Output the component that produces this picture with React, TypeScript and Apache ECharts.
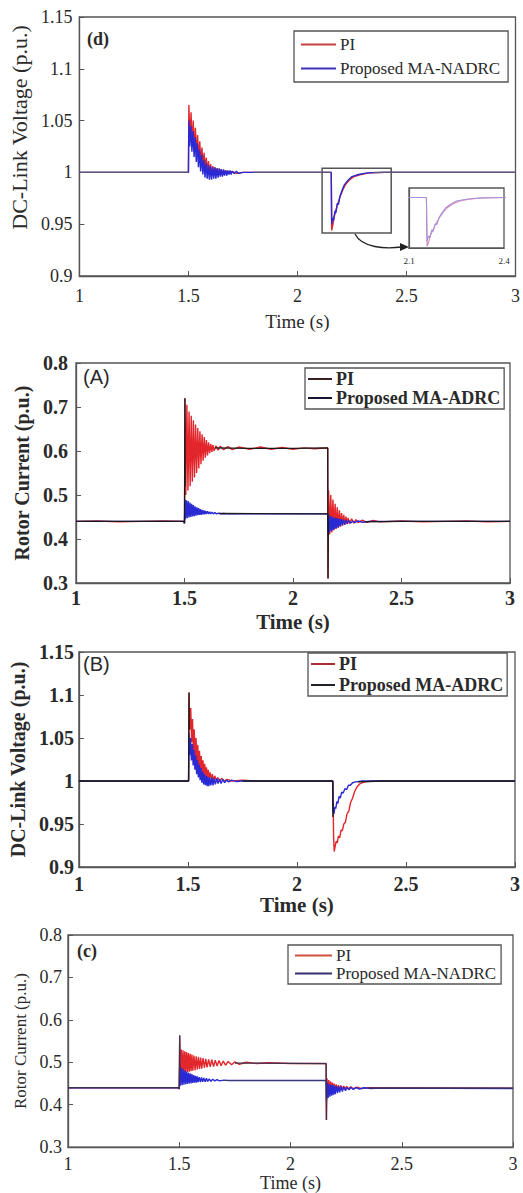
import React, { useEffect, useRef } from "react";
import * as echarts from "echarts";

// ---------- DATA ----------
// Panel (d): DC-link voltage, PI vs Proposed MA-NADRC
const piD = [[1.0,1.0],[1.5,1.0],[1.502,1.065],[1.507,1.03],[1.512,1.058],[1.517,1.025],[1.522,1.05],[1.527,1.02],[1.532,1.043],[1.537,1.015],[1.542,1.036],[1.547,1.011],[1.552,1.03],[1.557,1.008],[1.562,1.024],[1.567,1.005],[1.572,1.019],[1.577,1.003],[1.582,1.014],[1.587,1.0],[1.592,1.011],[1.597,0.998],[1.602,1.008],[1.607,0.997],[1.612,1.006],[1.617,0.997],[1.622,1.005],[1.627,0.997],[1.632,1.004],[1.64,0.998],[1.65,1.003],[1.66,0.998],[1.67,1.002],[1.68,0.999],[1.7,1.001],[1.72,0.999],[1.75,1.0],[2.155,1.0],[2.157,0.944],[2.163,0.95],[2.168,0.957],[2.175,0.962],[2.182,0.968],[2.19,0.973],[2.2,0.979],[2.21,0.984],[2.22,0.988],[2.24,0.993],[2.26,0.996],[2.29,0.998],[2.33,0.9995],[2.4,1.0],[3.0,1.0]];
const propD = [[1.0,1.0],[1.5,1.0],[1.502,1.05],[1.506,1.025],[1.511,1.045],[1.516,1.02],[1.521,1.04],[1.526,1.015],[1.531,1.034],[1.536,1.01],[1.541,1.028],[1.546,1.005],[1.551,1.022],[1.556,1.001],[1.561,1.017],[1.566,0.998],[1.571,1.012],[1.576,0.995],[1.581,1.009],[1.586,0.994],[1.591,1.007],[1.596,0.993],[1.601,1.006],[1.606,0.993],[1.611,1.005],[1.616,0.994],[1.621,1.005],[1.626,0.994],[1.631,1.004],[1.636,0.995],[1.641,1.004],[1.646,0.996],[1.651,1.003],[1.656,0.996],[1.661,1.003],[1.666,0.997],[1.671,1.002],[1.676,0.997],[1.681,1.002],[1.686,0.998],[1.691,1.002],[1.696,0.998],[1.701,1.001],[1.71,0.999],[1.72,1.001],[1.73,0.999],[1.75,1.0],[2.155,1.0],[2.157,0.95],[2.162,0.956],[2.166,0.954],[2.172,0.963],[2.176,0.961],[2.183,0.97],[2.188,0.969],[2.195,0.977],[2.205,0.983],[2.215,0.988],[2.23,0.992],[2.25,0.996],[2.28,0.998],[2.32,0.9995],[2.4,1.0],[3.0,1.0]];
const refD = [[1.0,1.0],[1.5,1.0],[1.501,1.0],[1.502,null],[1.8,1.0],[2.155,1.0],[2.156,null],[2.35,1.0],[3.0,1.0]];
const zoomBoxD = [[2.113, 1.004], [2.43, 0.9415]];

// Panel (A): rotor current, PI vs Proposed MA-ADRC
const piA = [[1.0,0.44],[1.1,0.441],[1.2,0.439],[1.3,0.44],[1.4,0.441],[1.497,0.44],[1.5,0.436],[1.502,0.72],[1.506,0.5],[1.511,0.705],[1.516,0.51],[1.521,0.69],[1.526,0.52],[1.531,0.68],[1.536,0.53],[1.541,0.67],[1.546,0.54],[1.551,0.66],[1.556,0.55],[1.561,0.652],[1.566,0.56],[1.571,0.645],[1.576,0.57],[1.581,0.638],[1.586,0.578],[1.591,0.632],[1.596,0.585],[1.601,0.625],[1.606,0.59],[1.611,0.62],[1.616,0.595],[1.621,0.616],[1.626,0.598],[1.631,0.614],[1.636,0.6],[1.645,0.612],[1.655,0.602],[1.665,0.611],[1.68,0.603],[1.7,0.61],[1.72,0.603],[1.75,0.609],[1.8,0.604],[1.85,0.609],[1.9,0.604],[1.95,0.608],[2.0,0.604],[2.05,0.607],[2.1,0.605],[2.16,0.607],[2.162,0.31],[2.164,0.51],[2.169,0.41],[2.174,0.5],[2.179,0.415],[2.184,0.49],[2.189,0.42],[2.194,0.48],[2.199,0.423],[2.204,0.472],[2.209,0.425],[2.214,0.465],[2.219,0.428],[2.224,0.459],[2.229,0.43],[2.234,0.455],[2.239,0.432],[2.244,0.451],[2.249,0.434],[2.254,0.448],[2.26,0.435],[2.27,0.446],[2.28,0.436],[2.29,0.444],[2.3,0.437],[2.32,0.443],[2.34,0.438],[2.37,0.442],[2.4,0.439],[2.5,0.441],[2.6,0.439],[2.7,0.44],[2.8,0.441],[2.9,0.439],[3.0,0.44]];
const propA = [[1.0,0.44],[1.497,0.44],[1.5,0.436],[1.502,0.49],[1.505,0.445],[1.509,0.488],[1.513,0.448],[1.517,0.486],[1.521,0.449],[1.525,0.483],[1.529,0.45],[1.533,0.48],[1.537,0.451],[1.541,0.477],[1.545,0.452],[1.549,0.474],[1.553,0.453],[1.557,0.472],[1.561,0.454],[1.565,0.47],[1.569,0.455],[1.573,0.468],[1.577,0.455],[1.581,0.466],[1.585,0.456],[1.589,0.465],[1.593,0.456],[1.597,0.464],[1.601,0.457],[1.606,0.463],[1.611,0.457],[1.616,0.462],[1.621,0.457],[1.627,0.461],[1.633,0.457],[1.64,0.46],[1.648,0.457],[1.657,0.459],[1.667,0.457],[1.68,0.458],[1.7,0.457],[2.16,0.457],[2.162,0.41],[2.165,0.455],[2.169,0.415],[2.173,0.452],[2.177,0.418],[2.181,0.45],[2.185,0.42],[2.189,0.449],[2.193,0.423],[2.197,0.448],[2.201,0.425],[2.205,0.447],[2.209,0.427],[2.213,0.446],[2.217,0.429],[2.222,0.445],[2.227,0.431],[2.232,0.444],[2.238,0.433],[2.244,0.443],[2.25,0.435],[2.258,0.442],[2.266,0.436],[2.275,0.441],[2.285,0.437],[2.3,0.441],[2.32,0.438],[2.35,0.44],[3.0,0.44]];
const refA = [[1.0,0.44],[1.497,0.44],[1.5,0.436],[1.502,0.72],[1.503,0.52],[1.504,null],[1.64,0.607],[1.8,0.606],[2.0,0.606],[2.16,0.607],[2.161,0.31],[2.163,0.44],[2.164,null],[2.33,0.439],[2.5,0.44],[2.7,0.44],[3.0,0.44]];
const refA2 = [[1.66,0.458],[2.16,0.457],[2.161,0.44]];

// Panel (B): DC-link voltage, PI vs Proposed MA-ADRC
const piB = [[1.0,1.0],[1.503,1.0],[1.505,1.103],[1.509,1.06],[1.513,1.085],[1.517,1.045],[1.521,1.072],[1.525,1.035],[1.529,1.06],[1.533,1.028],[1.537,1.05],[1.541,1.022],[1.545,1.042],[1.549,1.017],[1.553,1.035],[1.557,1.013],[1.561,1.029],[1.565,1.01],[1.569,1.024],[1.573,1.007],[1.577,1.02],[1.581,1.005],[1.585,1.016],[1.589,1.004],[1.593,1.013],[1.597,1.003],[1.602,1.01],[1.607,1.002],[1.612,1.008],[1.617,1.001],[1.623,1.006],[1.63,1.001],[1.637,1.004],[1.645,1.0],[1.655,1.003],[1.665,1.0],[1.68,1.002],[1.7,1.0],[1.75,1.001],[1.8,1.0],[2.165,1.0],[2.168,0.935],[2.171,0.918],[2.176,0.925],[2.18,0.93],[2.185,0.928],[2.19,0.936],[2.196,0.934],[2.202,0.943],[2.208,0.942],[2.215,0.95],[2.222,0.952],[2.23,0.962],[2.238,0.965],[2.246,0.975],[2.255,0.98],[2.265,0.988],[2.275,0.993],[2.29,0.997],[2.31,0.999],[2.35,1.0],[3.0,1.0]];
const propB = [[1.0,1.0],[1.503,1.0],[1.505,1.055],[1.508,1.03],[1.512,1.05],[1.516,1.024],[1.52,1.043],[1.524,1.018],[1.528,1.036],[1.532,1.013],[1.536,1.03],[1.54,1.008],[1.544,1.024],[1.548,1.004],[1.552,1.019],[1.556,1.001],[1.56,1.015],[1.564,0.998],[1.568,1.011],[1.572,0.996],[1.576,1.008],[1.58,0.995],[1.584,1.006],[1.588,0.994],[1.592,1.005],[1.596,0.994],[1.6,1.004],[1.605,0.995],[1.61,1.004],[1.615,0.995],[1.62,1.003],[1.626,0.996],[1.632,1.003],[1.638,0.997],[1.645,1.002],[1.652,0.997],[1.66,1.002],[1.668,0.998],[1.677,1.001],[1.687,0.999],[1.7,1.001],[1.72,0.9995],[1.75,1.0],[2.164,1.0],[2.166,0.965],[2.17,0.962],[2.174,0.97],[2.178,0.968],[2.183,0.976],[2.188,0.974],[2.193,0.982],[2.199,0.98],[2.205,0.987],[2.212,0.986],[2.22,0.991],[2.228,0.99],[2.236,0.995],[2.245,0.995],[2.255,0.998],[2.27,0.999],[2.3,1.0],[3.0,1.0]];
const refB = [[1.0,1.0],[1.503,1.0],[1.505,1.103],[1.506,1.06],[1.507,null],[1.75,1.0],[2.164,1.0],[2.165,0.958],[2.166,0.975],[2.167,null],[2.28,0.999],[2.4,1.0],[3.0,1.0]];

// Panel (c): rotor current, PI vs Proposed MA-NADRC
const piC = [[1.0,0.44],[1.497,0.44],[1.5,0.437],[1.502,0.563],[1.505,0.47],[1.509,0.53],[1.513,0.472],[1.517,0.528],[1.521,0.474],[1.525,0.526],[1.529,0.476],[1.533,0.524],[1.537,0.477],[1.541,0.522],[1.545,0.478],[1.549,0.52],[1.553,0.479],[1.557,0.518],[1.561,0.48],[1.566,0.516],[1.571,0.481],[1.576,0.514],[1.581,0.483],[1.586,0.512],[1.591,0.484],[1.596,0.511],[1.601,0.485],[1.607,0.51],[1.613,0.487],[1.619,0.508],[1.625,0.488],[1.632,0.507],[1.639,0.489],[1.646,0.506],[1.654,0.49],[1.662,0.505],[1.67,0.491],[1.679,0.504],[1.688,0.492],[1.698,0.503],[1.708,0.493],[1.72,0.502],[1.735,0.494],[1.75,0.501],[1.77,0.495],[1.8,0.5],[1.85,0.497],[1.9,0.499],[2.0,0.497],[2.16,0.497],[2.162,0.364],[2.164,0.462],[2.168,0.43],[2.172,0.458],[2.176,0.431],[2.18,0.455],[2.184,0.432],[2.188,0.452],[2.192,0.433],[2.196,0.45],[2.2,0.434],[2.205,0.448],[2.21,0.435],[2.215,0.446],[2.22,0.436],[2.226,0.445],[2.232,0.436],[2.238,0.444],[2.245,0.437],[2.252,0.443],[2.26,0.437],[2.27,0.442],[2.28,0.438],[2.3,0.441],[2.32,0.438],[2.35,0.44],[3.0,0.439]];
const propC = [[1.0,0.44],[1.497,0.44],[1.5,0.437],[1.502,0.49],[1.505,0.445],[1.509,0.487],[1.513,0.446],[1.517,0.484],[1.521,0.447],[1.525,0.481],[1.529,0.448],[1.533,0.478],[1.537,0.449],[1.541,0.476],[1.545,0.45],[1.549,0.474],[1.553,0.45],[1.557,0.472],[1.561,0.451],[1.565,0.47],[1.569,0.452],[1.573,0.468],[1.577,0.452],[1.581,0.467],[1.585,0.453],[1.59,0.465],[1.595,0.453],[1.6,0.464],[1.605,0.454],[1.61,0.463],[1.616,0.454],[1.622,0.462],[1.628,0.455],[1.635,0.461],[1.642,0.455],[1.65,0.46],[1.66,0.456],[1.67,0.459],[1.68,0.456],[1.7,0.458],[1.72,0.457],[2.16,0.457],[2.162,0.41],[2.165,0.452],[2.169,0.416],[2.173,0.449],[2.177,0.419],[2.181,0.447],[2.185,0.421],[2.189,0.446],[2.193,0.423],[2.197,0.445],[2.201,0.425],[2.206,0.444],[2.211,0.427],[2.216,0.443],[2.221,0.429],[2.227,0.443],[2.233,0.431],[2.24,0.442],[2.247,0.433],[2.255,0.441],[2.263,0.435],[2.272,0.441],[2.282,0.436],[2.295,0.44],[2.31,0.437],[2.33,0.44],[2.36,0.438],[2.4,0.439],[3.0,0.438]];
const refC = [[1.0,0.44],[1.497,0.44],[1.5,0.437],[1.502,0.563],[1.503,0.48],[1.504,null],[1.75,0.498],[2.16,0.497],[2.161,0.364],[2.162,0.44],[2.163,null],[2.35,0.439],[3.0,0.439]];
const refC2 = [[1.7,0.457],[2.16,0.457]];

const panelLabels = ["(d)", "(A)", "(B)", "(c)"];
const legendPI = "PI";
const legendNADRC = "Proposed MA-NADRC";
const legendADRC = "Proposed MA-ADRC";
const xTitle = "Time (s)";
const yTitleV = "DC-Link Voltage (p.u.)";
const yTitleI = "Rotor Current (p.u.)";

// ---------- STYLE ----------
const RED = "#e2262c";
const BLUE = "#2a2ad4";
const SERIF = "Liberation Serif, Times New Roman, serif";
const SANS = "Liberation Sans, Arial, sans-serif";
const BOX = "#555";
const TXT = "#2a2a2a";

function line(name: string, data: any[], color: string, idx: number, width = 1.4, z = 2): any {
  return {
    type: "line", name, data, xAxisIndex: idx, yAxisIndex: idx,
    showSymbol: false, symbol: "none", connectNulls: false, silent: true,
    lineStyle: { color, width }, itemStyle: { color }, z,
  };
}

function xAx(idx: number, o: any): any {
  return {
    type: "value", gridIndex: idx, min: 1, max: 3, interval: 0.5,
    name: xTitle, nameLocation: "middle", nameGap: o.nameGap,
    nameTextStyle: { fontFamily: SERIF, fontSize: o.nameSize, fontWeight: o.bold ? "bold" : "normal", color: TXT },
    axisLine: { show: true, lineStyle: { color: BOX, width: 1.3 } },
    axisTick: { show: true, inside: true, length: 5, lineStyle: { color: BOX } },
    axisLabel: { fontFamily: SERIF, fontSize: o.labelSize, fontWeight: o.bold ? "bold" : "normal", color: TXT, margin: o.margin },
    splitLine: { show: false },
  };
}

function yAx(idx: number, o: any): any {
  return {
    type: "value", gridIndex: idx, min: o.min, max: o.max, interval: o.interval,
    name: o.name, nameLocation: "middle", nameGap: o.nameGap,
    nameTextStyle: { fontFamily: SERIF, fontSize: o.nameSize, fontWeight: o.bold ? "bold" : "normal", color: TXT, padding: o.namePad || 0 },
    axisLine: { show: true, lineStyle: { color: BOX, width: 1.3 } },
    axisTick: { show: true, inside: true, length: 5, lineStyle: { color: BOX } },
    axisLabel: { fontFamily: SERIF, fontSize: o.labelSize, fontWeight: o.bold ? "bold" : "normal", color: TXT, margin: o.margin },
    splitLine: { show: false },
  };
}

function legend(o: any): any {
  return {
    show: true, orient: "vertical", left: o.left, top: o.top, selectedMode: false,
    padding: o.padding, itemGap: o.gap, itemWidth: o.itemWidth, itemHeight: 2, icon: "rect",
    borderColor: BOX, borderWidth: 1.3, backgroundColor: "#fff",
    textStyle: { fontFamily: SERIF, fontSize: o.size, fontWeight: o.bold ? "bold" : "normal", color: TXT, padding: [0, 0, 0, -1] },
    formatter: (n: string) => n.split("#")[0],
    data: o.items,
  };
}

export default function App() {
  const ref = useRef<HTMLDivElement>(null);
  useEffect(() => {
    if (!ref.current) return;
    const chart = echarts.init(ref.current, undefined, { renderer: "svg" });
    const gridBase = { show: true, borderColor: BOX, borderWidth: 1.3, backgroundColor: "transparent", containLabel: false };
    const option: any = {
      animation: false,
      backgroundColor: "#fff",
      grid: [
        { ...gridBase, left: 77, top: 17, width: 442, height: 259 },
        { ...gridBase, left: 409, top: 188, width: 95, height: 60, backgroundColor: "#fff", z: 5 },
        { ...gridBase, left: 76, top: 363, width: 434, height: 220 },
        { ...gridBase, left: 73, top: 652, width: 443, height: 215 },
        { ...gridBase, left: 68, top: 935, width: 445, height: 214 },
      ],
      xAxis: [
        xAx(0, { nameGap: 36, nameSize: 19, labelSize: 18, margin: 11 }),
        {
          type: "value", gridIndex: 1, min: 2.1, max: 2.4, interval: 0.3, z: 6,
          axisLine: { show: true, lineStyle: { color: BOX, width: 1.2 } }, axisTick: { show: false },
          axisLabel: { fontFamily: SERIF, fontSize: 9, color: TXT, margin: 8 }, splitLine: { show: false },
        },
        xAx(2, { nameGap: 28, nameSize: 21, labelSize: 20, margin: 5, bold: true }),
        xAx(3, { nameGap: 27, nameSize: 21, labelSize: 20, margin: 7, bold: true }),
        xAx(4, { nameGap: 26, nameSize: 18, labelSize: 18, margin: 8 }),
      ],
      yAxis: [
        yAx(0, { min: 0.9, max: 1.15, interval: 0.05, name: yTitleV, nameGap: 40, nameSize: 22, labelSize: 18, margin: 7, namePad: [0, 0, 0, 38] }),
        {
          type: "value", gridIndex: 1, min: 0.942, max: 1.011, z: 6,
          axisLine: { show: true, lineStyle: { color: BOX, width: 1.2 } }, axisTick: { show: false },
          axisLabel: { show: false }, splitLine: { show: false },
        },
        yAx(2, { min: 0.3, max: 0.8, interval: 0.1, name: yTitleI, nameGap: 36, nameSize: 20, labelSize: 20, margin: 8, bold: true }),
        yAx(3, { min: 0.9, max: 1.15, interval: 0.05, name: yTitleV, nameGap: 36, nameSize: 20, labelSize: 20, margin: 5, bold: true }),
        yAx(4, { min: 0.3, max: 0.8, interval: 0.1, name: yTitleI, nameGap: 34, nameSize: 17, labelSize: 18, margin: 6 }),
      ],
      legend: [
        legend({ left: 294, top: 31, padding: [5, 8, 5, 7], gap: 7, itemWidth: 35, size: 17,
          items: [{ name: legendPI + "#d", itemStyle: { color: "#c8403f" } }, { name: legendNADRC + "#d", itemStyle: { color: "#3a30b8" } }] }),
        legend({ left: 305, top: 368, padding: [2, 4, 2, 3], gap: 1, itemWidth: 24, size: 18, bold: true,
          items: [{ name: legendPI + "#A", itemStyle: { color: "#3a2020" } }, { name: legendADRC + "#A", itemStyle: { color: "#151530" } }] }),
        legend({ left: 308, top: 653, padding: [2, 4, 2, 3], gap: 3, itemWidth: 24, size: 18, bold: true,
          items: [{ name: legendPI + "#B", itemStyle: { color: "#a83030" } }, { name: legendADRC + "#B", itemStyle: { color: "#202028" } }] }),
        legend({ left: 288, top: 945, padding: [2, 5, 2, 7], gap: 1, itemWidth: 37, size: 17,
          items: [{ name: legendPI + "#c", itemStyle: { color: "#d2503f" } }, { name: legendNADRC + "#c", itemStyle: { color: "#303070" } }] }),
      ],
      series: [
        line(legendPI + "#d", piD, RED, 0),
        line(legendNADRC + "#d", propD, BLUE, 0),
        {
          ...line("ref#d", refD, "#5a5a78", 0, 1.3, 3),
          markArea: {
            silent: true,
            itemStyle: { color: "rgba(0,0,0,0)", borderColor: BOX, borderWidth: 1.5 },
            data: [[{ coord: zoomBoxD[0] }, { coord: zoomBoxD[1] }]],
          },
        },
        line("inPI#d", piD, "#d88ab8", 1, 1.1, 7),
        line("inProp#d", propD, "#a890d8", 1, 1.1, 7),
        line(legendPI + "#A", piA, RED, 2),
        line(legendADRC + "#A", propA, BLUE, 2),
        line("ref#A", refA, "#1a1a1a", 2, 1.3, 3),
        line("ref2#A", refA2, "#1a1a1a", 2, 1.3, 3),
        line(legendPI + "#B", piB, RED, 3),
        line(legendADRC + "#B", propB, BLUE, 3),
        line("ref#B", refB, "#1a1a1a", 3, 1.3, 3),
        line(legendPI + "#c", piC, RED, 4),
        line(legendNADRC + "#c", propC, BLUE, 4),
        line("ref#c", refC, "#3a3050", 4, 1.3, 3),
        line("ref2#c", refC2, "#3a3a6a", 4, 1.2, 3),
      ],
      graphic: [
        { type: "text", left: 87, top: 30, style: { text: panelLabels[0], font: `bold 18px ${SERIF}`, fill: TXT } },
        { type: "text", left: 83, top: 367, style: { text: panelLabels[1], font: `20px ${SANS}`, fill: TXT } },
        { type: "text", left: 83, top: 654, style: { text: panelLabels[2], font: `20px ${SANS}`, fill: TXT } },
        { type: "text", left: 77, top: 942, style: { text: panelLabels[3], font: `bold 18px ${SERIF}`, fill: TXT } },
        { type: "bezierCurve", shape: { x1: 355, y1: 234, cpx1: 362, cpy1: 248, cpx2: 385, cpy2: 249, x2: 402, y2: 247 }, style: { stroke: "#222", lineWidth: 1.3, fill: null }, z: 10 },
        { type: "polygon", shape: { points: [[400, 243], [409, 247], [400, 251]] }, style: { fill: "#222" }, z: 10 },
      ],
    };
    chart.setOption(option);
    return () => chart.dispose();
  }, []);
  return <div ref={ref} style={{ position: "absolute", left: 0, top: 0, width: 523, height: 1193 }} />;
}
